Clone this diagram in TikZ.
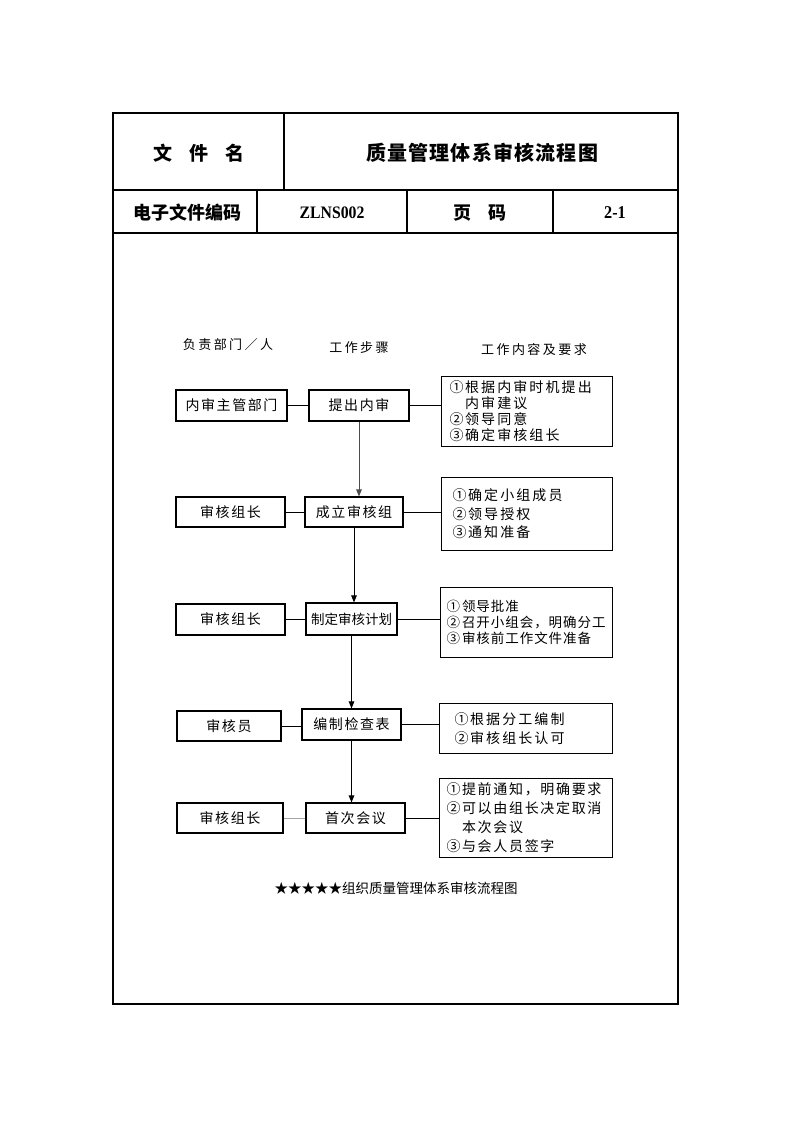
\documentclass[tikz,border=0pt]{standalone}
\usepackage{fontspec}
\setmainfont{Liberation Serif}
\newfontfamily\cjk{Noto Sans CJK SC}
\newfontfamily\cjksp[LetterSpace=11]{Noto Sans CJK SC}
\newfontfamily\cjkhead[LetterSpace=19]{Noto Sans CJK SC}
\newfontfamily\cjkwide[LetterSpace=15]{Noto Sans CJK SC}
\newfontfamily\cjkmid[LetterSpace=12]{Noto Sans CJK SC}
\newfontfamily\cjktight[LetterSpace=7]{Noto Sans CJK SC}
\newfontfamily\cjktitle[LetterSpace=6]{Noto Sans CJK SC}
\newfontfamily\latinnum[FakeStretch=0.9]{Liberation Serif}
\newcommand{\cnum}[1]{\makebox[15.5pt][l]{#1}}
\usetikzlibrary{arrows.meta}
\tikzset{
  frameline/.style={line width=1.4pt},
  tableline/.style={line width=1.2pt},
  hdr/.style={inner sep=0pt, font=\cjk\bfseries\fontsize{18}{20}\selectfont},
  colhead/.style={inner sep=0pt, font=\cjkhead\fontsize{13}{15}\selectfont},
  box/.style={draw, line width=1.1pt, inner sep=0pt, font=\cjksp\fontsize{14}{16}\selectfont},
  rbox/.style={draw, line width=1.1pt, anchor=north west, align=left, inner ysep=0pt},
  conn/.style={line width=1pt},
  arr/.style={line width=1pt, -{Triangle[length=7pt,width=5.5pt]}},
}
\begin{document}
\begin{tikzpicture}[x=1pt,y=-1pt]
\useasboundingbox (0,0) rectangle (793,1122);
% header table
\draw[frameline] (113,113) rectangle (678,1004);
\draw[tableline] (113,190) -- (678,190);
\draw[tableline] (113,233) -- (678,233);
\draw[tableline] (284,113) -- (284,190);
\draw[tableline] (257,190) -- (257,233);
\draw[tableline] (407,190) -- (407,233);
\draw[tableline] (553,190) -- (553,233);
\node[hdr, font=\cjk\bfseries\fontsize{19}{20}\selectfont] (h1) at (199,153) {文\hspace{17pt}件\hspace{17pt}名};
\node[hdr, font=\cjktitle\bfseries\fontsize{20}{22}\selectfont] (h2) at (482,153) {质量管理体系审核流程图};
\node[hdr] (h3) at (187,213) {电子文件编码};
\node[inner sep=0pt, font=\latinnum\bfseries\fontsize{17.5}{20}\selectfont] (h4) at (332,213) {ZLNS002};
\node[hdr] (h5) at (480,213) {页\hspace{17pt}码};
\node[inner sep=0pt, font=\latinnum\bfseries\fontsize{18}{20}\selectfont] (h6) at (615,213) {2-1};
% column heads
\node[colhead] (c1) at (228,345) {负责部门／人};
\node[colhead] (c2) at (359,348) {工作步骤};
\node[colhead] (c3) at (534,350) {工作内容及要求};
% row 1
\node[box, minimum width=111pt, minimum height=31pt] (l1) at (231.5,405.5) {内审主管部门};
\node[box, minimum width=100pt, minimum height=31pt] (s1) at (359,405.5) {提出内审};
\node[rbox, inner xsep=8pt, text width=155pt, minimum height=70pt, font=\cjkwide\fontsize{14}{16}\selectfont] (r1) at (441,376)
  {\cnum{①}根据内审时机提出\\\cnum{}内审建议\\\cnum{②}领导同意\\\cnum{③}确定审核组长};
% row 2
\node[box, minimum width=109pt, minimum height=30pt] (l2) at (230.5,512) {审核组长};
\node[box, minimum width=98pt, minimum height=30pt] (s2) at (354,512) {成立审核组};
\node[rbox, inner xsep=11pt, text width=149pt, minimum height=73pt, font=\cjkwide\fontsize{14}{18.5}\selectfont] (r2) at (441,477)
  {\cnum{①}确定小组成员\\\cnum{②}领导授权\\\cnum{③}通知准备};
% row 3
\node[box, minimum width=109pt, minimum height=31pt] (l3) at (230.5,619.5) {审核组长};
\node[box, minimum width=91pt, minimum height=32pt, font=\cjk\fontsize{13.5}{16}\selectfont] (s3) at (351.5,619) {制定审核计划};
\node[rbox, inner xsep=6pt, text width=160pt, minimum height=70pt, font=\cjktight\fontsize{13.5}{16}\selectfont] (r3) at (440,587)
  {\cnum{①}领导批准\\\cnum{②}召开小组会，明确分工\\\cnum{③}审核前工作文件准备};
% row 4
\node[box, minimum width=104pt, minimum height=30pt] (l4) at (229,726) {审核员};
\node[box, minimum width=99pt, minimum height=31pt] (s4) at (351.5,724.5) {编制检查表};
\node[rbox, inner xsep=15pt, text width=143pt, minimum height=50pt, font=\cjkwide\fontsize{14}{19}\selectfont] (r4) at (439,703)
  {\cnum{①}根据分工编制\\\cnum{②}审核组长认可};
% row 5
\node[box, minimum width=106pt, minimum height=30pt] (l5) at (230,818) {审核组长};
\node[box, minimum width=99pt, minimum height=30pt] (s5) at (355.5,818) {首次会议};
\node[rbox, inner xsep=7pt, text width=159pt, minimum height=79pt, font=\cjkmid\fontsize{14}{19}\selectfont] (r5) at (439,778)
  {\cnum{①}提前通知，明确要求\\\cnum{②}可以由组长决定取消\\\cnum{}本次会议\\\cnum{③}与会人员签字};
% connectors
\draw[conn] (l1.east) -- (l1.east -| s1.west);
\draw[conn] (s1.east) -- (s1.east -| r1.west);
\draw[conn] (l2.east) -- (l2.east -| s2.west);
\draw[conn] (s2.east) -- (s2.east -| r2.west);
\draw[conn] (l3.east) -- (l3.east -| s3.west);
\draw[conn] (s3.east) -- (s3.east -| r3.west);
\draw[conn] (l4.east) -- (l4.east -| s4.west);
\draw[conn] (s4.east) -- (s4.east -| r4.west);
\draw[conn, black!35] (l5.east) -- (l5.east -| s5.west);
\draw[conn] (s5.east) -- (s5.east -| r5.west);
\draw[arr, black!70] (s1.south) -- (s1.south |- s2.north);
\draw[arr] (s2.south) -- (s2.south |- s3.north);
\draw[arr] (s3.south) -- (s3.south |- s4.north);
\draw[arr] (s4.south) -- (s4.south |- s5.north);
% caption
\node[inner sep=0pt, font=\cjk\fontsize{13.5}{16}\selectfont] (cap) at (396,888) {★★★★★组织质量管理体系审核流程图};
\end{tikzpicture}
\end{document}
